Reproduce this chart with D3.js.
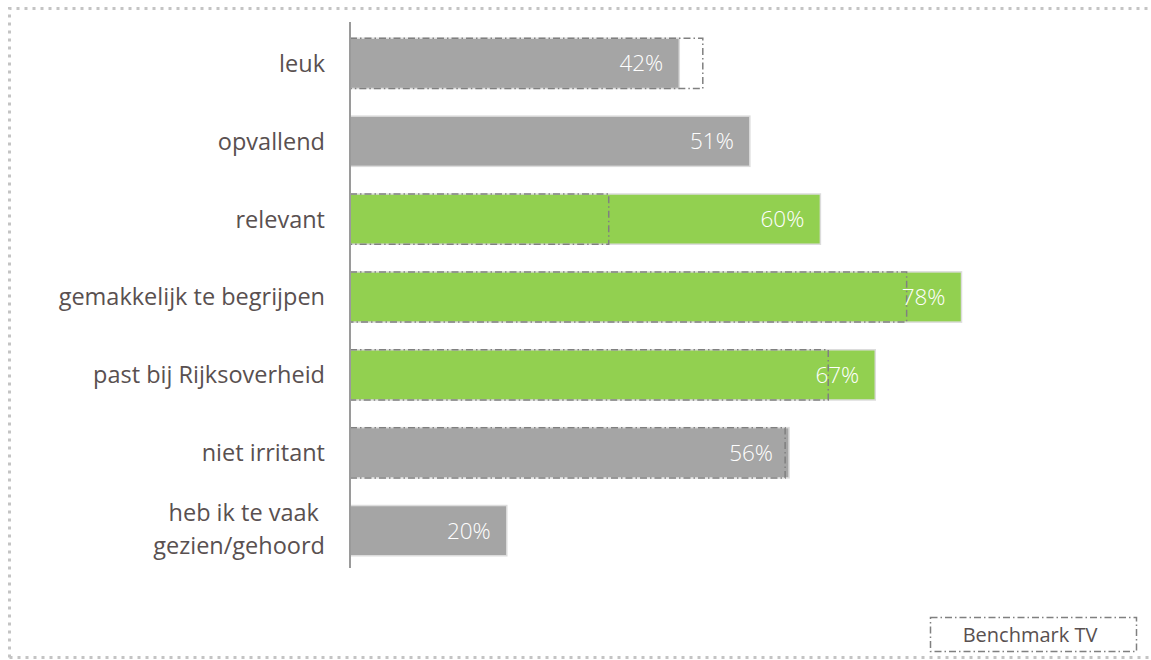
<!DOCTYPE html>
<html><head><meta charset="utf-8">
<script src="https://cdn.jsdelivr.net/npm/d3@7"></script>
<style>
html,body{margin:0;padding:0;background:#fff;}
svg{display:block;font-family:"Open Sans",sans-serif;}
</style></head>
<body><svg id="c" width="1151" height="660"></svg>
<script>
const categories = ["leuk","opvallend","relevant","gemakkelijk te begrijpen","past bij Rijksoverheid","niet irritant","heb ik te vaak\u00a0\ngezien/gehoord"];
const values = [42,51,60,78,67,56,20];
const benchmark = [45,null,33,71,61,55.5,null];
const highlight = [false,false,true,true,true,false,false];
const legendLabel = "Benchmark TV";

const svg = d3.select("#c");
const W = 1151, H = 660;

svg.append("path")
  .attr("d", `M9.5,${H-2.5} L9.5,8.5 L${W+10},8.5 M9.5,${H-2.5} L${W+10},${H-2.5}`)
  .attr("fill","none").attr("stroke","#c4c4c4").attr("stroke-width",3)
  .attr("stroke-dasharray","3,5");

const x = d3.scaleLinear().domain([0,100]).range([350, 350+784]);
const y = d3.scaleBand().domain(categories).range([25,569]).paddingInner(0.355).paddingOuter(0.17);

const g = svg.append("g");
g.selectAll("rect.bar").data(values).join("rect")
  .attr("class","bar")
  .attr("x", x(0)).attr("y",(d,i)=>y(categories[i]))
  .attr("width",d=>x(d)-x(0)).attr("height",y.bandwidth())
  .attr("fill",(d,i)=>highlight[i]?"#92d050":"#a5a5a5")
  .attr("stroke","#dcdcdc").attr("stroke-width",1.5);

g.selectAll("rect.bm").data(benchmark.map((b,i)=>({b,i})).filter(d=>d.b!=null)).join("rect")
  .attr("class","bm")
  .attr("x", x(0)).attr("y",d=>y(categories[d.i]))
  .attr("width",d=>x(d.b)-x(0)).attr("height",y.bandwidth())
  .attr("fill","none").attr("stroke","#808080").attr("stroke-width",1.5)
  .attr("stroke-dasharray","7,3,1.5,3");

g.selectAll("text.val").data(values).join("text")
  .attr("class","val")
  .attr("x",d=>x(d)-16).attr("y",(d,i)=>y(categories[i])+y.bandwidth()/2)
  .attr("dy","0.36em").attr("text-anchor","end")
  .attr("fill","#fff").attr("font-size",22.5).attr("font-weight",300)
  .text(d=>d+"%");

svg.append("line").attr("x1",350).attr("x2",350).attr("y1",22).attr("y2",568)
  .attr("stroke","#9a9a9a").attr("stroke-width",2);

categories.forEach((c,i)=>{
  const lines = c.split("\n");
  const cy = y(c)+y.bandwidth()/2 - (lines.length>1?2:0);
  const lh = 33;
  const t = svg.append("text").attr("text-anchor","end").attr("fill","#595050")
    .attr("font-size",23.5);
  lines.forEach((l,j)=>{
    t.append("tspan").attr("x",325).attr("y", cy + (j-(lines.length-1)/2)*lh).attr("dy","0.36em").text(l);
  });
});

svg.append("rect").attr("x",930.5).attr("y",617.5).attr("width",206).attr("height",34)
  .attr("fill","none").attr("stroke","#808080").attr("stroke-width",1.5)
  .attr("stroke-dasharray","7,3,1.5,3");
svg.append("text").attr("x",1030).attr("y",635).attr("dy","0.36em").attr("text-anchor","middle")
  .attr("fill","#595050").attr("font-size",20).text(legendLabel);
</script></body></html>
